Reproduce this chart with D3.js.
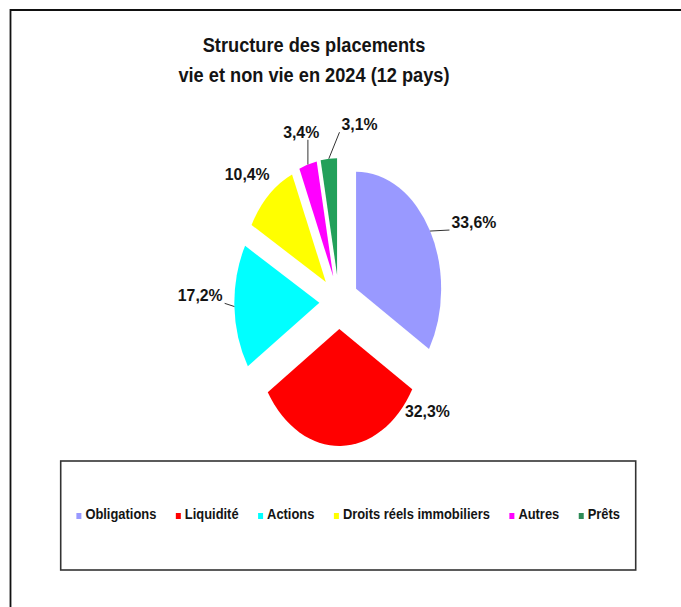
<!DOCTYPE html>
<html><head><meta charset="utf-8">
<script src="https://cdn.jsdelivr.net/npm/d3@7"></script>
<style>body{margin:0;background:#fff}svg{display:block}</style>
</head><body><svg id="c" width="681" height="607"></svg>
<script>
// ---- data ----
const titleLines = ["Structure des placements", "vie et non vie en 2024 (12 pays)"];
const categories = ["Obligations", "Liquidité", "Actions", "Droits réels immobiliers", "Autres", "Prêts"];
const values = [33.6, 32.3, 17.2, 10.4, 3.4, 3.1];
const valueLabels = ["33,6%", "32,3%", "17,2%", "10,4%", "3,4%", "3,1%"];

// ---- styles / layout ----
const sliceColors = ["#9999FF", "#FF0000", "#00FFFF", "#FFFF00", "#FF00FF", "#22A05A"];
const legendColors = ["#9999FF", "#FF0000", "#00FFFF", "#FFFF00", "#FF00FF", "#2E8B57"];
// label placement relative to slice mid-angle (deg shift, radius in pie units, leader line)
const labelLayout = [
  {shift: 6.2, r: 202, leader: true},
  {shift: -47.3, r: 163, leader: false},
  {shift: 3.8, r: 191, leader: true},
  {shift: -2.4, r: 180, leader: false},
  {shift: 0.3, r: 178, leader: true},
  {shift: 14.6, r: 180, leader: true}
];

const W = 681, H = 607;
const FONT = "'Liberation Sans', Arial, Helvetica, sans-serif";
const TXT = "#141414";
const svg = d3.select("#c");
svg.append("rect").attr("width", W).attr("height", H).attr("fill", "#fff");

function condense(sel, f) {
  sel.each(function () {
    const l = this.getComputedTextLength();
    d3.select(this).attr("textLength", l * f).attr("lengthAdjust", "spacingAndGlyphs");
    this.__w = l * f;
  });
}

// outer frame (top and left edges visible)
svg.append("path").attr("d", `M10.5,${H} V10 H${W}`)
  .attr("fill", "none").attr("stroke", "#111").attr("stroke-width", 1.8);

// title
svg.selectAll("text.title").data(titleLines).join("text")
  .attr("class", "title")
  .attr("x", 314).attr("y", (d, i) => 52 + i * 30)
  .attr("text-anchor", "middle")
  .attr("font-family", FONT).attr("font-weight", "bold").attr("font-size", 20)
  .attr("fill", TXT)
  .text(d => d)
  .call(condense, 0.91);

// pie
const cx = 339, cy = 302, R = 117, sx = 0.727, explode = 27;
const data = categories.map((c, i) => ({cat: c, value: values[i], label: valueLabels[i], color: sliceColors[i], lay: labelLayout[i]}));
const arcs = d3.pie().sort(null).value(d => d.value)(data);
const arcGen = d3.arc().innerRadius(0).outerRadius(R);
const g = svg.append("g").attr("transform", `translate(${cx},${cy}) scale(${sx},1)`);
g.selectAll("path").data(arcs).join("path")
  .attr("d", arcGen)
  .attr("fill", d => d.data.color)
  .attr("transform", d => {
    const m = (d.startAngle + d.endAngle) / 2;
    return `translate(${explode * Math.sin(m)},${-explode * Math.cos(m)})`;
  });

function pt(a, r) { return [cx + r * Math.sin(a) * sx, cy - r * Math.cos(a)]; }

// data labels
const LFS = 17;
const lab = svg.append("g");
arcs.forEach(d => {
  const m = (d.startAngle + d.endAngle) / 2;
  const a = m + d.data.lay.shift * Math.PI / 180;
  const [lx, ly] = pt(a, d.data.lay.r);
  const t = lab.append("text")
    .attr("x", lx).attr("y", ly).attr("dy", "0.35em")
    .attr("text-anchor", "middle")
    .attr("font-family", FONT).attr("font-weight", "bold").attr("font-size", LFS)
    .attr("fill", TXT).text(d.data.label);
  condense(t, 0.93);
  if (d.data.lay.leader) {
    const w = t.node().__w;
    const x0 = lx - w / 2 - 2, x1 = lx + w / 2 + 2, y0 = ly - 7, y1 = ly + 8;
    const [ex, ey] = pt(m, R + explode);
    const nx = Math.max(x0, Math.min(x1, ex)), ny = Math.max(y0, Math.min(y1, ey));
    lab.insert("path", "text").attr("d", `M${ex},${ey} L${nx},${ny}`)
      .attr("fill", "none").attr("stroke", "#333").attr("stroke-width", 1);
  }
});

// legend
const lb = {x: 60.7, y: 461, w: 575, h: 109};
svg.append("rect").attr("x", lb.x).attr("y", lb.y).attr("width", lb.w).attr("height", lb.h)
  .attr("fill", "none").attr("stroke", "#333").attr("stroke-width", 1.6);
const lg = svg.append("g");
const items = categories.map((c, i) => {
  const t = lg.append("text").attr("y", 519)
    .attr("font-family", FONT).attr("font-weight", "bold").attr("font-size", 15)
    .attr("fill", TXT).text(c);
  condense(t, 0.86);
  return {t, w: t.node().__w, color: legendColors[i]};
});
const mW = 5, mH = 6, mGap = 4, iGap = 19.5;
const total = d3.sum(items, d => d.w + mW + mGap) + iGap * (items.length - 1);
let x = lb.x + lb.w / 2 - total / 2;
items.forEach(it => {
  lg.append("rect").attr("x", x).attr("y", 513).attr("width", mW).attr("height", mH).attr("fill", it.color);
  it.t.attr("x", x + mW + mGap);
  x += mW + mGap + it.w + iGap;
});
</script>
</body></html>
